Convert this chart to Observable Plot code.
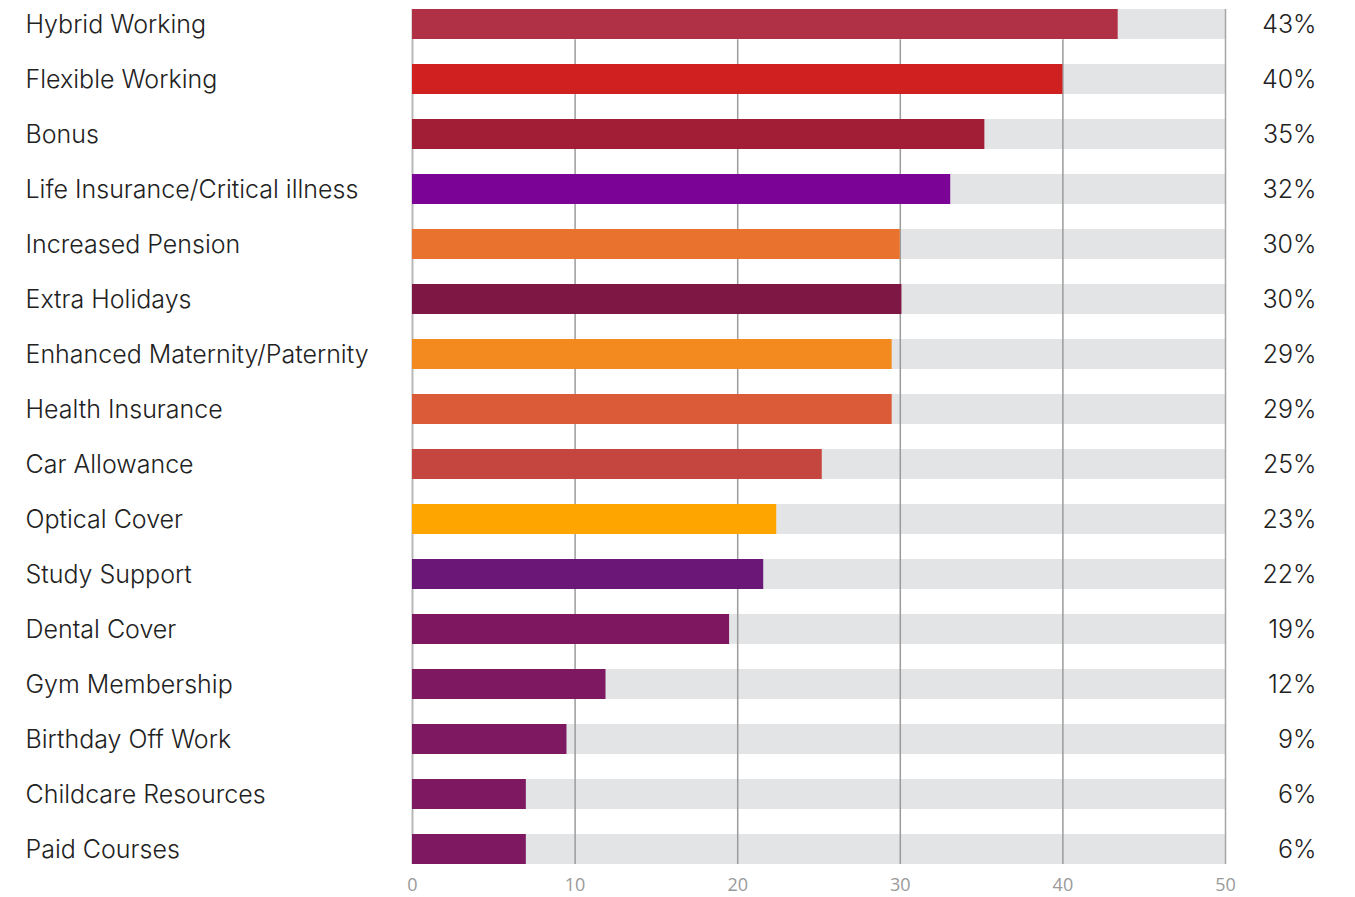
<!DOCTYPE html>
<html><head><meta charset="utf-8">
<script src="https://cdn.jsdelivr.net/npm/d3@7"></script>
<script src="https://cdn.jsdelivr.net/npm/@observablehq/plot@0.6"></script>
<style>body{margin:0;background:#fff}</style>
</head><body><div id="chart"></div>
<script>
const categories = ["Hybrid Working","Flexible Working","Bonus","Life Insurance/Critical illness","Increased Pension","Extra Holidays","Enhanced Maternity/Paternity","Health Insurance","Car Allowance","Optical Cover","Study Support","Dental Cover","Gym Membership","Birthday Off Work","Childcare Resources","Paid Courses"];
const values = [43.4,40.0,35.2,33.1,30.0,30.1,29.5,29.5,25.2,22.4,21.6,19.5,11.9,9.5,7.0,7.0];
const labels = [43,40,35,32,30,30,29,29,25,23,22,19,12,9,6,6];
const colors = ["#b03045","#d12020","#a21e37","#7b0496","#e9722e","#7e1743","#f38a1f","#db5a37","#c5453f","#fea500","#6a1778","#7e1760","#7e1860","#7e1860","#7e1860","#7e1860"];
const xTicks = [0,10,20,30,40,50];
const gridTicks = [10,20,30,40];
const xMax = 50;

const data = categories.map((c,i)=>({name:c, value:values[i], label:labels[i]+"%", color:colors[i]}));
const first = categories[0], second = categories[1], last = categories[categories.length-1];

const chart = Plot.plot({
  width:1355, height:897,
  marginLeft:412, marginRight:130, marginTop:8, marginBottom:31.7,
  x:{domain:[0,xMax], axis:null, label:null},
  y:{domain:categories, paddingInner:0.45, paddingOuter:0, axis:null},
  color:{type:"identity"},
  style:{fontFamily:"Inter", background:"#fff"},
  marks:[
    Plot.barX(data,{y:"name", x1:0, x2:xMax, fill:"#e3e4e6"}),
    Plot.ruleX(gridTicks,{x:d=>d, y1:()=>second, y2:()=>last, insetTop:-24.8, stroke:"#9b9b9b", strokeWidth:1.5}),
    Plot.ruleX([xMax],{x:d=>d, y1:()=>first, y2:()=>last, stroke:"#a5a5a5", strokeWidth:1.5}),
    Plot.ruleX([0],{x:d=>d, y1:()=>first, y2:()=>last, stroke:"#b8b8b8", strokeWidth:2}),
    Plot.barX(data,{y:"name", x:"value", fill:"color"}),
    Plot.axisX({ticks:xTicks, label:null, tickSize:0, tickPadding:12, fontSize:18, color:"#9a9a9a", fontFamily:"Open Sans"}),
    Plot.text(data,{y:"name", text:"name", frameAnchor:"left", textAnchor:"start", dx:-387, fontSize:25, fontWeight:300, fill:"#222"}),
    Plot.text(data,{y:"name", text:"label", frameAnchor:"right", textAnchor:"end", dx:91, fontSize:25, fontWeight:300, fill:"#222"})
  ]
});
document.getElementById("chart").appendChild(chart);
</script>
</body></html>
